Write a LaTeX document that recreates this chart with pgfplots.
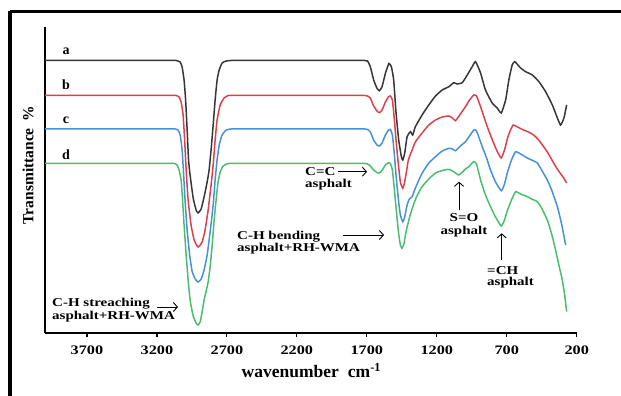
\documentclass[border=0pt]{standalone}
\usepackage{fontspec}
\setmainfont{Liberation Serif}
\newfontfamily\wide[FakeStretch=1.25]{Liberation Serif}
\usepackage{pgfplots}
\pgfplotsset{compat=1.18}
\usetikzlibrary{arrows.meta}
\definecolor{cA}{RGB}{55,55,55}
\definecolor{cB}{RGB}{220,65,75}
\definecolor{cC}{RGB}{70,145,215}
\definecolor{cD}{RGB}{75,190,110}
\begin{document}
\begin{tikzpicture}[x=1pt,y=1pt]
\path[use as bounding box] (0,0) rectangle (621,396);
\clip (0,0) rectangle (621,396);
\draw[line width=3.5pt] (10,384.5) -- (700,384.5);
\draw[line width=3.5pt] (10,384.5) -- (10,-50);
\begin{axis}[
  at={(45pt,63pt)}, anchor=south west,
  scale only axis, width=531.7pt, height=306pt,
  x dir=reverse, xmin=200, xmax=4000, ymin=0, ymax=306,
  axis x line*=bottom, axis y line*=left,
  axis line style={line width=1.8pt},
  ytick=\empty,
  xtick={200,700,1200,1700,2200,2700,3200,3700},
  tick align=outside, major tick length=4pt,
  tick style={line width=1.2pt, black},
  /pgf/number format/1000 sep={},
  /pgf/number format/assume math mode=true,
  xticklabel style={font=\wide\bfseries\fontsize{13}{15}\selectfont, yshift=-5pt},
  clip=false,
]
\addplot[color=cA, line width=1.5pt, smooth, tension=0.3] table {
4000 272.5
3800 272.5
3600 272.5
3450 272.5
3350 272.5
3270 272.5
3210 272.5
3160 272.5
3120 272.5
3090 272.5
3063 272.5
3034 271
3020 266
3006 253
2995 233
2984 203
2974 173
2963 158
2941 135
2920 123
2906 120
2884 124
2863 136
2841 151
2827 163
2813 183
2798 208
2784 233
2770 253
2755 263
2734 270
2705 272
2670 272.5
2630 272.5
2590 272.5
2540 272.5
2470 272.5
2380 272.5
2270 272.5
2150 272.5
2020 272.5
1900 272.5
1810 272.5
1750 272.5
1715 272.5
1695 272
1675 266.3
1651 253
1627 244.7
1610 242.3
1591 246.3
1567 259.7
1542 269.5
1524 266
1508 253
1491 220
1472 193
1453 176.3
1443 173
1429 180
1412 196.3
1388 201.3
1372 198
1353 206.3
1305 218
1257 228
1209 237
1161 243
1114 246.3
1078 250.3
1054 249
1018 250.3
982 258
947 266.3
923 271.3
887 260
852 243
804 230
768 225
739 220
708 233
685 253
661 268
642 271.3
601 265
565 261.3
517 258
470 251.3
422 241.3
374 228
338 215
315 208
291 215
272 228
};
\addplot[color=cB, line width=1.5pt, smooth, tension=0.3] table {
4000 237.5
3800 237.5
3600 237.5
3450 237.5
3350 237.5
3270 237.5
3210 237.5
3160 237.5
3120 237.5
3090 237.5
3063 237.5
3042 236
3027 231
3013 218
3002 193
2991 163
2977 133
2956 108
2934 93
2906 86
2877 91
2856 103
2834 123
2813 148
2798 168
2784 193
2770 213
2748 228
2720 235
2690 237.5
2650 237.5
2600 237.5
2540 237.5
2470 237.5
2380 237.5
2270 237.5
2150 237.5
2020 237.5
1900 237.5
1810 237.5
1750 237.5
1715 237.5
1695 237
1675 235
1651 227
1627 222
1610 220.3
1591 223
1567 231
1544 236.5
1532 237
1517 233
1503 213
1488 188
1474 168
1460 151
1443 144.7
1431 150
1417 161
1403 173
1376 183
1353 191
1305 200
1257 208
1209 213
1161 216
1114 217
1088 215
1066 212.3
1031 219
995 226.3
966 233
935 238
916 237
887 226.3
839 206.3
794 190
766 181
739 175
716 183
694 195
673 203
653 208
623 206
580 203
544 201
508 198
472 193
436 186.3
401 179
365 170
329 162
293 155
272 150
};
\addplot[color=cC, line width=1.5pt, smooth, tension=0.3] table {
4000 204
3800 204
3600 204
3450 204
3350 204
3270 204
3210 204
3160 204
3125 204
3095 204
3070 204
3049 203
3034 198
3020 183
3009 158
2999 133
2984 103
2966 78
2949 62
2927 54
2906 51
2884 54
2863 63
2841 78
2820 101
2798 128
2784 153
2770 173
2755 188
2734 198
2705 203
2670 204
2630 204
2590 204
2540 204
2470 204
2380 204
2270 204
2150 204
2020 204
1900 204
1810 204
1750 204
1715 204
1695 203.5
1675 201
1651 193
1627 188
1610 187
1591 190
1567 198
1544 203
1532 203.5
1517 198
1503 178
1488 153
1474 133
1460 118
1443 111.3
1431 115
1412 128
1396 134
1376 136.3
1353 145
1305 159.7
1257 170
1209 176.3
1161 182
1114 184.7
1088 184
1066 182.3
1031 187
995 191.3
966 197
935 203
916 202
887 191
866 183
844 175
816 163
780 151
739 142.3
716 149
694 161
666 173
637 181.3
601 179
553 175
522 173
481 170
451 163
410 153
379 143
338 126.3
308 109
279 88
};
\addplot[color=cD, line width=1.5pt, smooth, tension=0.3] table {
4000 169.7
3800 169.7
3600 169.7
3450 169.7
3350 169.7
3270 169.7
3210 169.7
3160 169.7
3130 169.7
3100 169.7
3077 169.7
3056 168
3042 163
3027 153
3017 133
3006 108
2991 78
2977 53
2963 33
2941 17
2920 10
2906 8
2891 11
2877 21
2863 33
2848 42
2834 51
2820 66
2805 88
2791 113
2777 133
2763 151
2748 161
2727 167
2691 169.5
2650 169.7
2600 169.7
2540 169.7
2470 169.7
2380 169.7
2270 169.7
2150 169.7
2020 169.7
1900 169.7
1810 169.7
1750 169.7
1715 169.7
1695 169
1675 167
1651 163
1627 160.3
1610 160
1589 163
1567 168
1546 170.3
1532 169.5
1517 163
1503 143
1488 121
1474 101
1460 88
1448 84.7
1435 89
1424 98
1412 106
1403 111
1388 119
1367 128
1345 136
1305 146.3
1257 154
1209 160
1161 162.5
1114 163.7
1088 162
1066 160
1043 158
1016 161
995 164
971 166.3
937 171.3
916 169
887 153
852 138
816 126.3
780 116
739 107
716 113
694 123
666 133
637 141.3
601 139
553 136.3
522 134
481 131.3
451 125
410 113
379 99
351 83
329 69
303 53
286 38
272 21.3
};
\end{axis}
% curve letters
\begin{scope}[font=\bfseries\fontsize{14}{16}\selectfont]
\node at (66,345) {a};
\node at (66,311) {b};
\node at (66,276) {c};
\node at (66,241) {d};
\end{scope}
% annotations
\begin{scope}[font=\wide\bfseries\fontsize{12}{13}\selectfont, every node/.style={inner sep=0pt},
  arr/.style={-{Straight Barb[length=4pt,width=9pt]}, line width=0.9pt}]
\node[anchor=west] at (305,224.3) {C=C};
\node[anchor=west] at (305,211) {asphalt};
\draw[arr] (338,224.3) -- (367,224.3);
\node[anchor=west] at (237,159) {C-H bending};
\node[anchor=west] at (237,147) {asphalt+RH-WMA};
\draw[arr] (343,161) -- (384,161);
\node[anchor=west] at (52,92) {C-H streaching};
\node[anchor=west] at (52,79) {asphalt+RH-WMA};
\draw[arr] (157,89) -- (178,89);
\node at (464,178) {S=O};
\node at (464,164) {asphalt};
\draw[arr] (459,186) -- (459,214.3);
\node[anchor=west] at (487,125.3) {=CH};
\node[anchor=west] at (487,113) {asphalt};
\draw[arr] (501.7,136) -- (501.7,162.7);
\end{scope}
% axis titles
\node[font=\bfseries\fontsize{17.5}{20}\selectfont, anchor=base west, inner sep=0pt] at (241.5,18) {wavenumber\hspace{9pt}cm\textsuperscript{-1}};
\node[font=\bfseries\fontsize{15.5}{18}\selectfont, rotate=90, inner sep=0pt] at (28,231) {Transmittance\hspace{7pt}\%};
\end{tikzpicture}
\end{document}
